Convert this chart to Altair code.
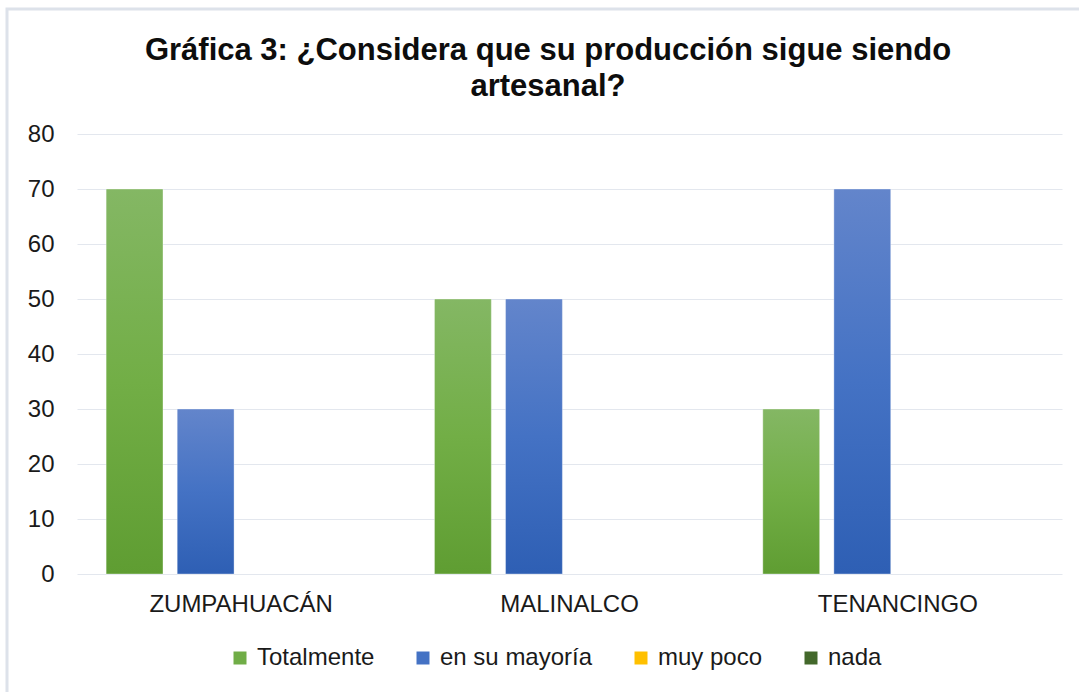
import altair as alt
import pandas as pd

titulo = ["Gráfica 3: ¿Considera que su producción sigue siendo", "artesanal?"]
categorias = ["ZUMPAHUACÁN", "MALINALCO", "TENANCINGO"]
series = ["Totalmente", "en su mayoría", "muy poco", "nada"]
totalmente = [70, 50, 30]
en_su_mayoria = [30, 50, 70]
muy_poco = [0, 0, 0]
nada = [0, 0, 0]
colores = ["#70ad47", "#4472c4", "#ffc000", "#43682b"]

valores = [totalmente, en_su_mayoria, muy_poco, nada]
rows = []
for s, vals in zip(series, valores):
    for c, v in zip(categorias, vals):
        rows.append({"municipio": c, "serie": s, "valor": v})
df = pd.DataFrame(rows)

FONT = "Liberation Sans"
TXT = "#1a1a1a"

x_enc = alt.X("municipio:N", sort=categorias,
              scale=alt.Scale(paddingInner=0, paddingOuter=0),
              axis=alt.Axis(title=None, labelAngle=0, ticks=False, domain=False,
                            grid=False, labelFontSize=24, labelColor=TXT,
                            labelFont=FONT, labelPadding=18, labelLimit=500))
xoff_enc = alt.XOffset("serie:N", sort=series,
                       scale=alt.Scale(domain=series, paddingInner=0.2, paddingOuter=0.41))
y_enc = alt.Y("valor:Q", scale=alt.Scale(domain=[0, 80], nice=False),
              axis=alt.Axis(title=None, values=list(range(0, 81, 10)), ticks=False,
                            domain=False, labelFontSize=24, labelColor=TXT,
                            labelFont=FONT, labelPadding=23, gridColor="#e3e7ee",
                            gridWidth=1))

base = alt.Chart(df)

legend_layer = base.mark_bar(opacity=0).encode(
    x=x_enc, xOffset=xoff_enc, y=y_enc,
    color=alt.Color("serie:N", sort=series,
                    scale=alt.Scale(domain=series, range=colores),
                    legend=alt.Legend(title=None, orient="none", direction="horizontal",
                                      legendX=151, legendY=512,
                                      symbolType="square", symbolSize=169,
                                      symbolOpacity=1, symbolStrokeWidth=0,
                                      labelFontSize=24, labelFont=FONT,
                                      labelColor=TXT, columnPadding=36,
                                      labelOffset=5, labelLimit=400)),
)

def grad(top, mid, bottom):
    return alt.Gradient(gradient="linear",
                        stops=[alt.GradientStop(color=top, offset=0),
                               alt.GradientStop(color=mid, offset=0.5),
                               alt.GradientStop(color=bottom, offset=1)],
                        x1=0, x2=0, y1=0, y2=1)

grad_layers = []
for s, g in [("Totalmente", grad("#84b764", "#72ae46", "#5f9d32")),
             ("en su mayoría", grad("#6385cb", "#4472c4", "#2e5fb4"))]:
    grad_layers.append(
        base.transform_filter(alt.datum.serie == s)
        .transform_filter(alt.datum.valor > 0)
        .mark_bar(fill=g, stroke="#ffffff", strokeOpacity=0.35, strokeWidth=1)
        .encode(x=x_enc, xOffset=xoff_enc, y=y_enc)
    )

one = pd.DataFrame({"k": [0]})
marco = alt.Chart(one).mark_rect(
    fill="transparent", stroke="#dde2ea", strokeWidth=3
).encode(x=alt.value(-70), x2=alt.value(1120), y=alt.value(-125), y2=alt.value(700))

titulo_layer = alt.Chart(one).mark_text(
    text=titulo, font=FONT, fontSize=31, fontWeight="bold", color="#0d0d0d",
    align="center", baseline="alphabetic", lineHeight=36
).encode(x=alt.value(471), y=alt.value(-74))

chart = alt.layer(marco, legend_layer, *grad_layers, titulo_layer).properties(
    width=985, height=440,
    background="white",
    autosize=alt.AutoSizeParams(type="none"),
    padding={"left": 77, "top": 134, "right": 17, "bottom": 118},
).configure_view(stroke="transparent", strokeWidth=0)

chart.save("out.html", embed_options={"renderer": "svg", "actions": False})
